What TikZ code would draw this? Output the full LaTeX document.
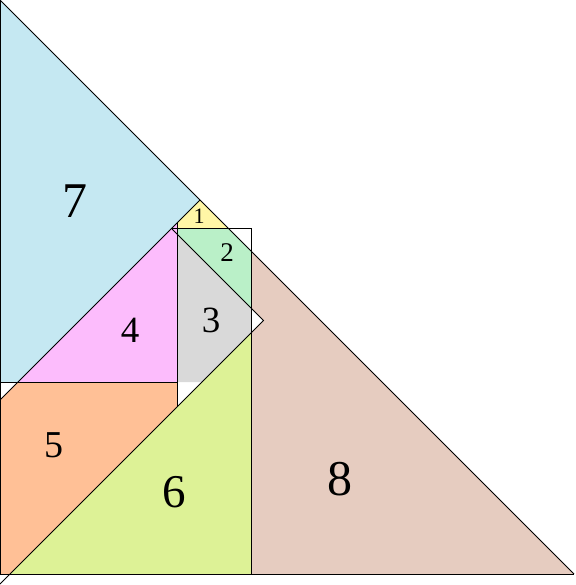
\documentclass[tikz,border=0pt]{standalone}
\usepackage{fontspec}
\setmainfont{Liberation Serif}
\definecolor{PieceSky}{RGB}{197,232,242}
\definecolor{PieceLemon}{RGB}{255,246,166}
\definecolor{PieceMint}{RGB}{186,240,200}
\definecolor{PieceGrey}{RGB}{217,217,217}
\definecolor{PiecePink}{RGB}{252,188,252}
\definecolor{PieceApricot}{RGB}{255,192,150}
\definecolor{PieceLime}{RGB}{221,242,150}
\definecolor{PieceClay}{RGB}{230,204,192}
\newcommand{\piecesize}[1]{\fontsize{#1}{#1}\selectfont}
\tikzset{
    puz/diagram/.style={
        x=1pt, y=-1pt,
        line join=miter,
        every node/.style={inner sep=0pt, outer sep=0pt}
    },
    puz/cut/.style={draw=black, line width=1pt},
    puz/diag/.style={draw=black, line width=0.8pt},
    puz/label/.style={text=black, anchor=center}
}
\begin{document}
\begin{tikzpicture}[puz/diagram]
    \useasboundingbox (0,0) rectangle (575,585);
    % coloured pieces, white patches are left unfilled
    \fill[PieceSky] (0,0) -- (0,382) -- (18,382) -- (200,200) -- cycle;
    \fill[PieceLemon] (177,223) -- (200,200) -- (228,228) -- (177,228) -- cycle;
    \fill[PieceMint] (177,228) -- (228,228) -- (251,251) -- (251,308)
        -- (177,234) -- cycle;
    \fill[PieceGrey] (177,234) -- (251,308) -- (251,333) -- (202,382)
        -- (177,382) -- cycle;
    \fill[PiecePink] (18,382) -- (177,382) -- (177,223) -- cycle;
    \fill[PieceApricot] (0,400) -- (18,382) -- (177,382) -- (177,407)
        -- (10,574) -- (0,574) -- cycle;
    \fill[PieceLime] (10,574) -- (251,574) -- (251,333) -- cycle;
    \fill[PieceClay] (251,251) -- (574,574) -- (251,574) -- (251,333)
        -- (263.5,320.5) -- (251,308) -- cycle;
    % slanted edges
    \draw[puz/diag] (0,0) -- (574,574);
    \draw[puz/diag] (0,400) -- (200,200);
    \draw[puz/diag] (172,229) -- (263.5,320.5) -- (0,584);
    % straight edges
    \draw[puz/cut] (0,0) -- (0,574) -- (574,574);
    \draw[puz/cut] (0,382) -- (177,382);
    \draw[puz/cut] (177,223) -- (177,407);
    \draw[puz/cut] (172,228) -- (251,228) -- (251,574);
    % piece numbers
    \node[puz/label, font=\piecesize{22}] (one) at (199,216) {1};
    \node[puz/label, font=\piecesize{27}] (two) at (227,253) {2};
    \node[puz/label, font=\piecesize{37}] (three) at (211,320) {3};
    \node[puz/label, font=\piecesize{37}] (four) at (130,330) {4};
    \node[puz/label, font=\piecesize{38}] (five) at (54,445) {5};
    \node[puz/label, font=\piecesize{47}] (six) at (174,492) {6};
    \node[puz/label, font=\piecesize{50}] (seven) at (75,201) {7};
    \node[puz/label, font=\piecesize{50}] (eight) at (340,479) {8};
\end{tikzpicture}
\end{document}
